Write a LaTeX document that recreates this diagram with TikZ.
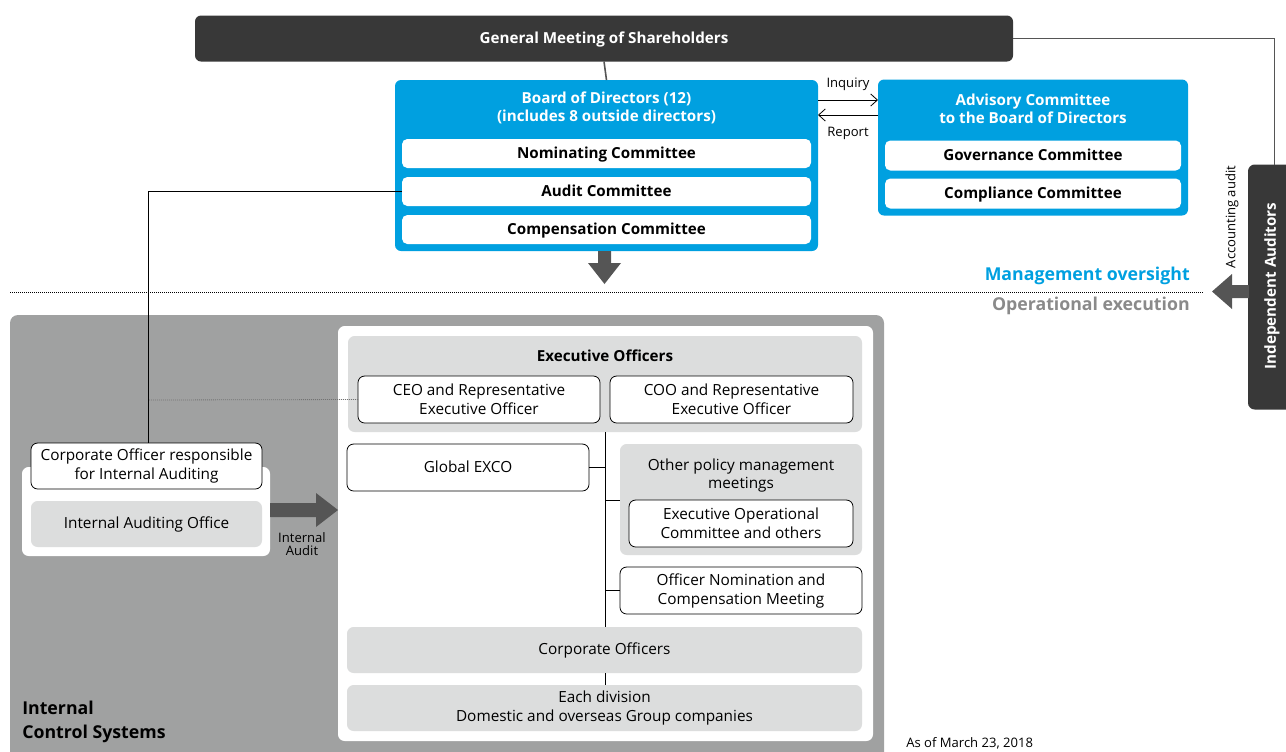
\documentclass[tikz,border=0pt]{standalone}
\usepackage{fontspec}
\setmainfont{Open Sans}
\usetikzlibrary{arrows.meta}
\definecolor{darkc}{HTML}{383838}
\definecolor{bblue}{HTML}{00A0E0}
\definecolor{arrc}{HTML}{555555}
\definecolor{midgray}{HTML}{A0A1A1}
\definecolor{lightg}{HTML}{DCDDDD}
\definecolor{optext}{HTML}{8A8A8A}
\begin{document}
\begin{tikzpicture}[x=0.75pt,y=-0.75pt,
  bx/.style 2 args={minimum width=#1*0.75pt, minimum height=#2*0.75pt, inner sep=0pt, outer sep=0pt},
  boldf/.style={font=\bfseries\fontsize{11.4}{13.8}\selectfont},
  regf/.style={font=\fontsize{11.5}{14.2}\selectfont},
  smallf/.style={font=\fontsize{9.8}{9.6}\selectfont},
  oneline/.style={text height=0.97em, text depth=0.25em},
  darkbox/.style={fill=darkc, rounded corners=4.5pt, text=white, boldf, oneline},
  bluebox/.style={fill=bblue, rounded corners=4.5pt},
  whitebox/.style={fill=white, rounded corners=4pt, boldf, oneline},
  outlinebox/.style={draw=black, line width=0.6pt, fill=white, rounded corners=5pt, align=center, regf},
  graybox/.style={fill=lightg, rounded corners=5pt, align=center, regf},
  conn/.style={draw=black, line width=0.6pt},
  msg/.style={conn, -{Straight Barb[length=5pt,width=9pt,line width=0.6pt]}},
]
\useasboundingbox (0,0) rectangle (1286,751);

% ---------- top: shareholders, board, advisory ----------
\node[darkbox, bx={818}{46}] (gm) at (604,38.5) {General Meeting of Shareholders};

\node[bluebox, bx={423}{171}] (bod) at (606.5,165.5) {};
\node[boldf, text=white, align=center, inner sep=0pt] (bodt) at (606.5,108) {Board of Directors (12)\\(includes 8 outside directors)};
\node[whitebox, bx={409}{29}] (nom) at (606.5,153.5) {Nominating Committee};
\node[whitebox, bx={409}{29}] (aud) at (606.5,191.5) {Audit Committee};
\node[whitebox, bx={409}{29}] (comp) at (606.5,229.5) {Compensation Committee};

\node[bluebox, bx={310}{136}] (adv) at (1033,147.5) {};
\node[boldf, text=white, align=center, inner sep=0pt] (advt) at (1033,108.5) {Advisory Committee\\to the Board of Directors};
\node[whitebox, bx={296}{30}] (gov) at (1033,155.5) {Governance Committee};
\node[whitebox, bx={296}{30}] (compl) at (1033,193.5) {Compliance Committee};

\node[fill=darkc, rounded corners=5pt, bx={52}{245}] (ia) at (1274,287) {};
\node[rotate=90, boldf, text=white, inner sep=0pt] (iat) at (1272,286) {Independent Auditors};
\node[rotate=90, smallf, inner sep=0pt] (acc) at (1232,217) {Accounting audit};

\draw[draw=arrc, line width=1.2pt] (gm.south) -- (bod.north);
\draw[conn, draw=arrc] (gm.east) -| (ia.north);

\coordinate (inq) at (0,100);
\coordinate (rep) at (0,115);
\draw[msg] (bod.east |- inq) -- (adv.west |- inq);
\draw[msg] (adv.west |- rep) -- (bod.east |- rep);
\node[smallf, inner sep=0pt] (inqt) at (848,84) {Inquiry};
\node[smallf, inner sep=0pt] (rept) at (848,133) {Report};

% down arrow under board
\fill[arrc] (598,251) -- (611,251) -- (611,263) -- (621,263) -- (604.5,284) -- (588,263) -- (598,263) -- cycle;

% oversight / execution
\node[anchor=east, inner sep=0pt, text=bblue, font=\bfseries\fontsize{13.3}{15}\selectfont] (mo) at (1190,276) {Management oversight};
\node[anchor=east, inner sep=0pt, text=optext, font=\bfseries\fontsize{13.3}{15}\selectfont] (oe) at (1190,306) {Operational execution};
\draw[line width=0.6pt, dash pattern=on 0.75pt off 0.75pt] (10,292) -- (1203,292);
\fill[arrc] (1249,285) -- (1232,285) -- (1232,274) -- (1212,291.5) -- (1232,309) -- (1232,298) -- (1249,298) -- cycle;

% ---------- internal control systems ----------
\fill[midgray, rounded corners=6pt] (10,315) rectangle (884,775);
\node[fill=white, rounded corners=5pt, bx={535}{415}] (inner) at (605.5,533.5) {};
\node[anchor=west, inner sep=0pt, align=left, font=\bfseries\fontsize{13.3}{18}\selectfont] (ics) at (22,722) {Internal\\Control Systems};

\node[graybox, bx={514}{96}] (exec) at (605,384) {};
\node[boldf, inner sep=0pt] (exect) at (605,356) {Executive Officers};
\node[outlinebox, bx={242}{47}] (ceo) at (479,399.5) {CEO and Representative\\Executive Officer};
\node[outlinebox, bx={243}{47}] (coo) at (731.5,399.5) {COO and Representative\\Executive Officer};

\node[outlinebox, oneline, bx={242}{47}] (gex) at (468,467.5) {Global EXCO};
\node[graybox, bx={242}{111}] (other) at (741,499.5) {};
\node[regf, align=center, inner sep=0pt] (othert) at (741,475.5) {Other policy management\\meetings};
\node[outlinebox, bx={224}{47}] (eoc) at (741,523.5) {Executive Operational\\Committee and others};
\node[outlinebox, bx={242}{47}] (onc) at (741,590.5) {Officer Nomination and\\Compensation Meeting};
\node[graybox, oneline, bx={515}{46}] (corp) at (604.5,650) {Corporate Officers};
\node[graybox, bx={515}{46}] (div) at (604.5,708) {Each division\\Domestic and overseas Group companies};

\coordinate (trunk) at (605,0);
\draw[conn] (exec.south -| trunk) -- (corp.north -| trunk);
\draw[conn] (corp.south -| trunk) -- (div.north -| trunk);
\draw[conn] (gex.east) -- (gex.east -| trunk);
\coordinate (otherin) at (0,500);
\draw[conn] (trunk |- otherin) -- (other.west |- otherin);
\draw[conn] (trunk |- onc.west) -- (onc.west);

% internal auditing
\node[fill=white, rounded corners=5pt, bx={248}{89}] (iaw) at (146,511.5) {};
\node[outlinebox, bx={231}{46}] (coir) at (146.5,466) {Corporate Officer responsible\\for Internal Auditing};
\node[graybox, oneline, bx={231}{46}] (iao) at (146.5,524) {Internal Auditing Office};
\coordinate (auditx) at (148,0);
\draw[conn] (aud.west) -- (aud.west -| auditx) -- (coir.north -| auditx);
\draw[draw=black!55, line width=0.6pt, dash pattern=on 0.75pt off 0.75pt] (149,400) -- (ceo.west);
\fill[arrc] (270,503) -- (316,503) -- (316,493) -- (338,510) -- (316,527) -- (316,517) -- (270,517) -- cycle;
\node[smallf, align=center, inner sep=0pt] (iat2) at (302,544) {Internal\\Audit};

\node[anchor=west, smallf, inner sep=0pt] (asof) at (906,743) {As of March 23, 2018};
\end{tikzpicture}
\end{document}
